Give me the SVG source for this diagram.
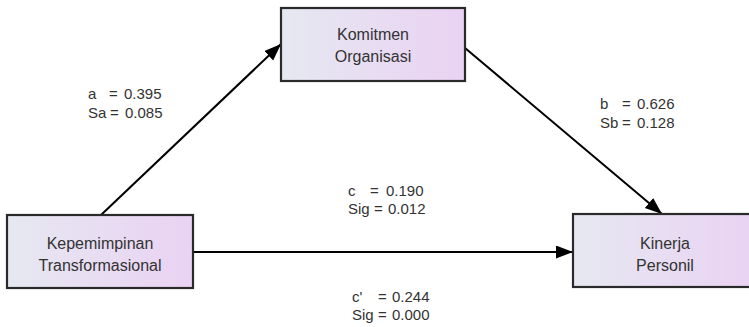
<svg xmlns="http://www.w3.org/2000/svg" width="749" height="327" viewBox="0 0 749 327">
<defs>
<linearGradient id="fill" x1="0" y1="0" x2="1" y2="0">
<stop offset="0" stop-color="#e6e8f1"/>
<stop offset="1" stop-color="#ead2f3"/>
</linearGradient>
<marker id="arr" markerUnits="userSpaceOnUse" markerWidth="18" markerHeight="14" refX="17" refY="6.5" orient="auto">
<path d="M0,0 L17,6.5 L0,13 z" fill="#000"/>
</marker>
<style>
.box{fill:url(#fill);stroke:#2a2a2a;stroke-width:2.2}
.nt{font-family:"Liberation Sans",Arial,sans-serif;font-size:16px;fill:#333;text-anchor:middle}
.lb{font-family:"Liberation Sans",Arial,sans-serif;font-size:15px;fill:#333}
.ln{stroke:#000;stroke-width:2;fill:none;marker-end:url(#arr)}
</style>
</defs>
<rect width="749" height="327" fill="#fff"/>
<g id="connectors">
<line class="ln" x1="101" y1="215" x2="281" y2="44"/>
<line class="ln" x1="465" y1="48" x2="662" y2="214"/>
<line class="ln" x1="193" y1="252" x2="573" y2="252"/>
</g>
<g id="komitmen">
<rect class="box" x="281" y="8" width="184" height="73"/>
<text class="nt" x="373" y="40">Komitmen</text>
<text class="nt" x="373" y="62">Organisasi</text>
</g>
<g id="kepemimpinan">
<rect class="box" x="7" y="215" width="186" height="73"/>
<text class="nt" x="100" y="249">Kepemimpinan</text>
<text class="nt" x="100" y="271">Transformasional</text>
</g>
<g id="kinerja">
<rect class="box" x="573" y="214" width="184" height="73"/>
<text class="nt" x="665" y="249">Kinerja</text>
<text class="nt" x="665" y="271">Personil</text>
</g>
<g id="labels">
<text class="lb" y="99"><tspan x="88">a</tspan><tspan x="109">=</tspan><tspan x="124">0.395</tspan></text>
<text class="lb" y="118"><tspan x="88">Sa</tspan><tspan x="110">=</tspan><tspan x="125">0.085</tspan></text>
<text class="lb" y="109"><tspan x="600">b</tspan><tspan x="622">=</tspan><tspan x="637">0.626</tspan></text>
<text class="lb" y="128"><tspan x="600">Sb</tspan><tspan x="622">=</tspan><tspan x="637">0.128</tspan></text>
<text class="lb" y="196"><tspan x="348">c</tspan><tspan x="370">=</tspan><tspan x="386">0.190</tspan></text>
<text class="lb" y="214"><tspan x="348">Sig</tspan><tspan x="374">=</tspan><tspan x="388">0.012</tspan></text>
<text class="lb" y="302"><tspan x="352">c'</tspan><tspan x="378">=</tspan><tspan x="392">0.244</tspan></text>
<text class="lb" y="320"><tspan x="352">Sig</tspan><tspan x="378">=</tspan><tspan x="392">0.000</tspan></text>
</g>
</svg>
